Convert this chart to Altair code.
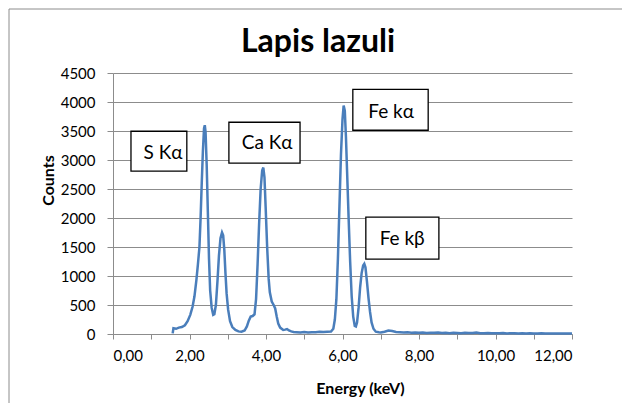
import altair as alt
import pandas as pd

# Spectrum (energy in keV, counts)
energy = [1.56, 1.58, 1.65, 1.72, 1.80, 1.88, 1.95, 2.02, 2.08, 2.13, 2.18, 2.22, 2.26, 2.29, 2.32,
          2.35, 2.38, 2.40, 2.42, 2.45, 2.48, 2.51, 2.54, 2.58, 2.62, 2.65, 2.69, 2.73, 2.77, 2.81,
          2.85, 2.88, 2.91, 2.94, 2.97, 3.01, 3.06, 3.12, 3.20, 3.28, 3.36, 3.44, 3.50, 3.55, 3.60,
          3.65, 3.70, 3.74, 3.78, 3.82, 3.86, 3.90, 3.93, 3.96, 3.99, 4.03, 4.07, 4.10, 4.15, 4.20,
          4.24, 4.28, 4.32, 4.37, 4.45, 4.50, 4.55, 4.60, 4.66, 4.72,
          4.8, 4.9, 5.0, 5.1, 5.2, 5.3, 5.4, 5.5, 5.6, 5.7,
          5.76, 5.80, 5.84, 5.88, 5.92, 5.96, 6.00, 6.03, 6.06, 6.09, 6.12, 6.16, 6.20, 6.24, 6.28,
          6.32, 6.35, 6.38, 6.42, 6.46, 6.50, 6.54, 6.57, 6.60, 6.64, 6.68, 6.72, 6.76, 6.81, 6.87,
          6.95, 7.0, 7.1, 7.2, 7.3, 7.4, 7.5, 7.6, 7.7, 7.8, 7.9, 8.0, 8.1, 8.2, 8.3, 8.4, 8.5, 8.6,
          8.7, 8.8, 8.9, 9.0, 9.1, 9.2, 9.3, 9.4, 9.5, 9.6, 9.7, 9.8, 9.9, 10.0, 10.1, 10.2, 10.3,
          10.4, 10.5, 10.6, 10.7, 10.8, 10.9, 11.0, 11.1, 11.2, 11.3, 11.4, 11.5, 11.6, 11.7, 11.8,
          11.9, 12.0]
counts = [10, 100, 90, 110, 120, 150, 220, 330, 470, 650, 930, 1200, 1500, 2000, 2600,
          3150, 3550, 3600, 3480, 2900, 2100, 1300, 750, 450, 330, 340, 500, 900, 1350, 1650,
          1750, 1700, 1450, 1050, 700, 420, 220, 120, 70, 45, 40, 60, 130, 230, 300,
          310, 340, 600, 1200, 1900, 2500, 2820, 2870, 2700, 2200, 1500, 950, 720, 560, 500,
          440, 300, 180, 110, 70, 75, 85, 60, 45, 35,
          30, 25, 35, 28, 32, 30, 38, 35, 40, 42,
          90, 250, 600, 1300, 2200, 3100, 3700, 3940, 3850, 3400, 2800, 2000, 1250, 650, 300,
          140, 130, 200, 450, 800, 1050, 1180, 1210, 1150, 900, 620, 380, 200, 90, 40,
          30, 28, 40, 60, 50, 35, 30, 25, 30, 22, 25, 20, 24, 18, 22, 20, 26, 18,
          20, 15, 22, 18, 15, 20, 16, 18, 24, 15, 14, 18, 12, 15, 12, 16, 10,
          14, 12, 10, 13, 9, 12, 10, 8, 11, 9, 8, 10, 7, 9, 8,
          7, 8]

# Annotation boxes (data coordinates)
labels = ["S K\u03b1", "Ca K\u03b1", "Fe k\u03b1", "Fe k\u03b2"]
box_x1 = [0.47, 3.03, 6.27, 6.61]
box_x2 = [1.93, 4.89, 8.24, 8.52]
box_y1 = [2807, 2945, 3513, 1292]
box_y2 = [3496, 3651, 4219, 2015]
text_x = [1.31, 4.03, 7.27, 7.56]
text_y = [3117, 3289, 3823, 1636]

chart_title = "Lapis lazuli"
x_ticks = list(range(0, 13))
y_ticks = list(range(0, 4501, 500))

spec = pd.DataFrame({"energy": energy, "counts": counts})
ann = pd.DataFrame({"label": labels, "x1": box_x1, "x2": box_x2, "y1": box_y1, "y2": box_y2,
                    "tx": text_x, "ty": text_y})
title_df = pd.DataFrame({"t": [chart_title]})

FONT = "Lato"
xscale = alt.Scale(domain=[0, 12], nice=False)
yscale = alt.Scale(domain=[0, 4500], nice=False)

x_axis = alt.Axis(
    title="Energy (keV)", values=x_ticks,
    labelExpr="datum.value % 2 == 0 ? replace(format(datum.value, '.2f'), '.', ',') : ''",
    tickSize=5, labelPadding=9, grid=False, labelOverlap=False,
    titleX=247, titleY=54, titleBaseline="middle", titleAlign="center")
y_axis = alt.Axis(
    title="Counts", values=y_ticks, format="d",
    tickSize=6, labelPadding=12, grid=True, labelOverlap=False,
    titleX=-65, titleY=107, titleAngle=270, titleBaseline="middle", titleAlign="center")

line = alt.Chart(spec).mark_line(color="#4A7EBB", strokeWidth=2.5).encode(
    x=alt.X("energy:Q", scale=xscale, axis=x_axis, title="Energy (keV)"),
    y=alt.Y("counts:Q", scale=yscale, axis=y_axis, title="Counts"),
)

boxes = alt.Chart(ann).mark_rect(fill="white", stroke="black", strokeWidth=1.3).encode(
    x=alt.X("x1:Q", scale=xscale, axis=x_axis, title="Energy (keV)"), x2="x2:Q",
    y=alt.Y("y1:Q", scale=yscale, axis=y_axis, title="Counts"), y2="y2:Q",
)
texts = alt.Chart(ann).mark_text(font=FONT, fontSize=19, color="black",
                                 align="center", baseline="middle").encode(
    x=alt.X("tx:Q", scale=xscale, axis=x_axis, title="Energy (keV)"),
    y=alt.Y("ty:Q", scale=yscale, axis=y_axis, title="Counts"),
    text="label:N",
)

border = alt.Chart(title_df).mark_rect(fillOpacity=0, stroke="#8c8c8c", strokeWidth=1).encode(
    x=alt.value(-104), x2=alt.value(700), y=alt.value(-64), y2=alt.value(600),
)
title = alt.Chart(title_df).mark_text(font=FONT, fontSize=32, fontWeight="bold", color="black",
                                      align="center", baseline="middle").encode(
    x=alt.value(205), y=alt.value(-31), text="t:N",
)

chart = alt.layer(border, line, boxes, texts, title).properties(
    width=459, height=261,
    background="white",
    autosize=alt.AutoSizeParams(type="none"),
    padding={"left": 113, "top": 73, "right": 50, "bottom": 69},
).configure_view(stroke=None).configure_axis(
    labelFont=FONT, labelFontSize=15, labelColor="black",
    titleFont=FONT, titleFontSize=16, titleFontWeight="bold", titleColor="black",
    domainColor="#8c8c8c", tickColor="#8c8c8c", gridColor="#8c8c8c", gridWidth=1,
)

chart.save("out.html", embed_options={"renderer": "svg", "actions": False})
